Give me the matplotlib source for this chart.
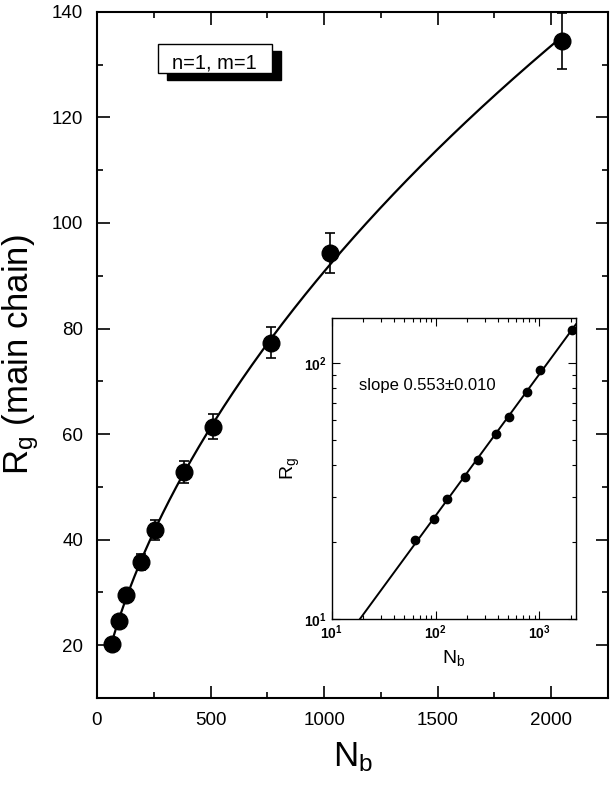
import matplotlib
matplotlib.use('Agg')
import matplotlib.pyplot as plt
import numpy as np
from matplotlib.patches import Rectangle
from matplotlib.ticker import MultipleLocator, FixedLocator, LogLocator, NullFormatter, FuncFormatter

plt.rcParams['font.family'] = ['Liberation Sans', 'DejaVu Sans']
plt.rcParams['mathtext.fontset'] = 'custom'
plt.rcParams['mathtext.rm'] = 'Liberation Sans'
plt.rcParams['mathtext.it'] = 'Liberation Sans:italic'
plt.rcParams['mathtext.bf'] = 'Liberation Sans:bold'

# %% data
Nb = np.array([64, 96, 128, 192, 256, 384, 512, 768, 1024, 2048])
Rg = np.array([20.3, 24.6, 29.5, 35.8, 41.8, 52.8, 61.4, 77.3, 94.3, 134.5])
Rg_err = np.array([0.8, 0.9, 1.0, 1.5, 1.9, 2.1, 2.4, 2.9, 3.8, 5.3])
slope = 0.553
label_box = 'n=1, m=1'
slope_text = 'slope 0.553\u00b10.010'

# %% main plot
fig = plt.figure(figsize=(6.1, 7.87), dpi=100)
ax = fig.add_axes([0.159, 0.113, 0.8377, 0.872])

# smooth fitted curve (cubic in log-log)
p = np.polyfit(np.log(Nb), np.log(Rg), 3)
xs = np.linspace(60, Nb.max(), 400)
ax.plot(xs, np.exp(np.polyval(p, np.log(xs))), color='k', lw=1.6, zorder=2)
ax.errorbar(Nb, Rg, yerr=Rg_err, fmt='o', color='k', ms=12, capsize=3.5,
            elinewidth=1.2, capthick=1.2, zorder=3)

ax.set_xlim(0, 2250)
ax.set_ylim(10, 140)
ax.xaxis.set_major_locator(MultipleLocator(500))
ax.xaxis.set_minor_locator(MultipleLocator(250))
ax.yaxis.set_major_locator(MultipleLocator(20))
ax.yaxis.set_minor_locator(MultipleLocator(10))
ax.tick_params(which='both', direction='in', top=True, right=True, width=1.2,
               labelsize=13.5, pad=10)
ax.tick_params(which='major', length=9)
ax.tick_params(which='minor', length=4)
for s in ax.spines.values():
    s.set_linewidth(1.5)
ax.set_xlabel('N$_\\mathrm{b}$', fontsize=25, labelpad=8)
ax.set_ylabel('R$_\\mathrm{g}$ (main chain)', fontsize=25, labelpad=8)

# label box with shadow
ax.add_patch(Rectangle((0.137, 0.901), 0.223, 0.042, transform=ax.transAxes,
                       facecolor='k', edgecolor='k', zorder=4))
ax.add_patch(Rectangle((0.119, 0.911), 0.223, 0.042, transform=ax.transAxes,
                       facecolor='white', edgecolor='k', lw=1, zorder=5))
ax.text(0.2305, 0.911, label_box, transform=ax.transAxes, ha='center', va='bottom',
        fontsize=14.5, zorder=6)

# %% inset log-log
ins = fig.add_axes([0.544, 0.2135, 0.40, 0.3825])
b = np.mean(np.log10(Rg) - slope * np.log10(Nb))
xl = np.logspace(1, np.log10(2250), 100)
ins.plot(xl, 10 ** (b + slope * np.log10(xl)), color='k', lw=1.4)
ins.plot(Nb, Rg, 'o', color='k', ms=6)
ins.set_xscale('log')
ins.set_yscale('log')
ins.set_xlim(10, 2250)
ins.set_ylim(10, 150)
ins.xaxis.set_major_locator(FixedLocator([10, 100, 1000]))
ins.yaxis.set_major_locator(FixedLocator([10, 100]))
ins.xaxis.set_minor_locator(LogLocator(base=10, subs=np.arange(2, 10)))
ins.yaxis.set_minor_locator(LogLocator(base=10, subs=np.arange(2, 10)))
fmt = FuncFormatter(lambda v, pos: r'$\mathbf{10^{%d}}$' % round(np.log10(v)))
ins.xaxis.set_major_formatter(fmt)
ins.yaxis.set_major_formatter(fmt)
ins.xaxis.set_minor_formatter(NullFormatter())
ins.yaxis.set_minor_formatter(NullFormatter())
ins.tick_params(which='both', direction='in', top=True, right=True, width=0.8,
                labelsize=10)
ins.tick_params(which='major', length=6)
ins.tick_params(which='minor', length=3)
for s in ins.spines.values():
    s.set_linewidth(1.0)
ins.set_xlabel('N$_\\mathrm{b}$', fontsize=14, labelpad=4)
ins.set_ylabel('R$_\\mathrm{g}$', fontsize=14, labelpad=2)
ins.text(0.11, 0.76, slope_text, transform=ins.transAxes, fontsize=12)

fig.savefig('out.png', dpi=100)
